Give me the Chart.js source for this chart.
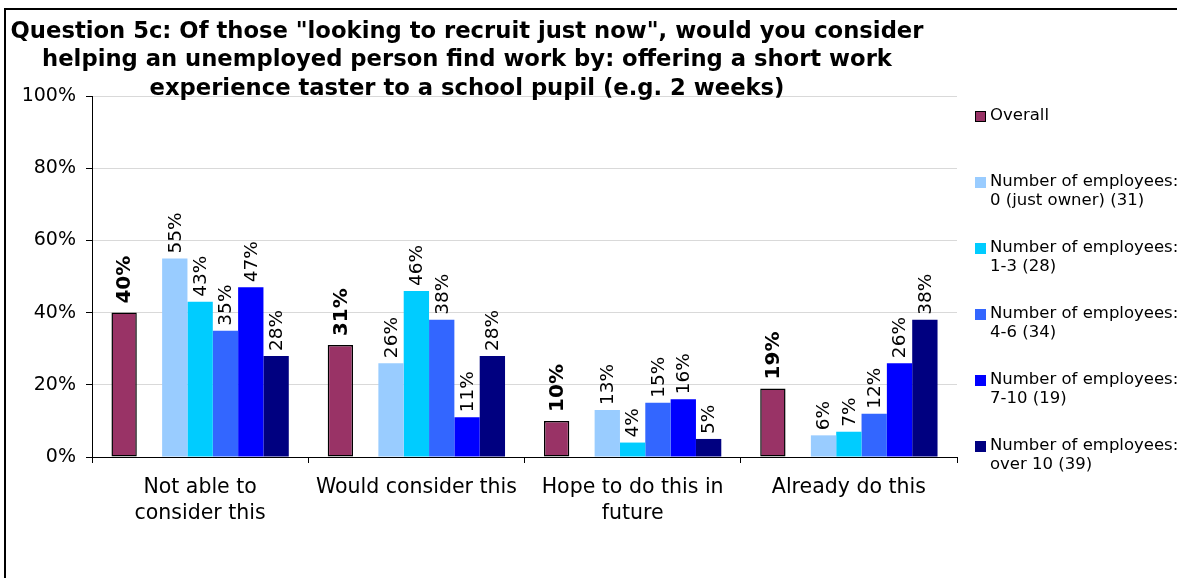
<!DOCTYPE html>
<html>
<head>
<meta charset="utf-8">
<script src="https://cdn.jsdelivr.net/npm/chart.js@4/dist/chart.umd.min.js"></script>
<style>
  html, body { margin: 0; padding: 0; background: #fff; }
  canvas { display: block; }
</style>
</head>
<body>
<canvas id="chart" width="1177" height="578"></canvas>
<script>
// data
const categories = [["Not able to", "consider this"], "Would consider this", ["Hope to do this in", "future"], "Already do this"];
const overall = [40, 31, 10, 19];
const emp0 = [55, 26, 13, 6];
const emp1to3 = [43, 46, 4, 7];
const emp4to6 = [35, 38, 15, 12];
const emp7to10 = [47, 11, 16, 26];
const empOver10 = [28, 28, 5, 38];
const seriesNames = [
  ["Overall"],
  ["Number of employees:", "0 (just owner) (31)"],
  ["Number of employees:", "1-3 (28)"],
  ["Number of employees:", "4-6 (34)"],
  ["Number of employees:", "7-10 (19)"],
  ["Number of employees:", "over 10 (39)"]
];
const titleLines = [
  'Question 5c: Of those "looking to recruit just now", would you consider',
  "helping an unemployed person find work by: offering a short work",
  "experience taster to a school pupil (e.g. 2 weeks)"
];

const FONT = "'DejaVu Sans', Verdana, sans-serif";
const colors = ["#993366", "#99CCFF", "#00CCFF", "#3366FF", "#0000FF", "#000080"];
const seriesData = [overall, emp0, emp1to3, emp4to6, emp7to10, empOver10];

const datasets = [];
seriesData.forEach(function (d, i) {
  datasets.push({
    label: seriesNames[i].join(" "),
    data: d,
    backgroundColor: colors[i],
    borderColor: i === 0 ? "#000" : colors[i],
    borderWidth: i === 0 ? 1.5 : 0,
    borderSkipped: false
  });
  if (i === 0) {
    // empty slot between Overall and the size bands
    datasets.push({ label: "", data: [null, null, null, null], spacer: true });
  }
});

const extras = {
  id: "extras",
  beforeDraw(chart) {
    const ctx = chart.ctx;
    ctx.save();
    ctx.strokeStyle = "#000";
    ctx.lineWidth = 2;
    ctx.beginPath();
    ctx.moveTo(5, 600);
    ctx.lineTo(5, 9);
    ctx.lineTo(1200, 9);
    ctx.stroke();
    ctx.restore();
  },
  afterDatasetsDraw(chart) {
    const ctx = chart.ctx;
    ctx.save();
    chart.data.datasets.forEach(function (ds, di) {
      if (ds.spacer) return;
      const meta = chart.getDatasetMeta(di);
      const bold = di === 0;
      meta.data.forEach(function (bar, j) {
        ctx.save();
        ctx.translate(bar.x, bar.y - (bold ? 9 : 5));
        ctx.rotate(-Math.PI / 2);
        ctx.font = (bold ? "bold 20px " : "18.5px ") + FONT;
        ctx.fillStyle = "#000";
        ctx.textAlign = "left";
        ctx.textBaseline = "middle";
        ctx.fillText(ds.data[j] + "%", 0, 1);
        ctx.restore();
      });
    });
    ctx.restore();
  },
  afterDraw(chart) {
    const ctx = chart.ctx;
    ctx.save();
    // title
    ctx.font = "bold 22.7px " + FONT;
    ctx.fillStyle = "#000";
    ctx.textAlign = "center";
    ctx.textBaseline = "middle";
    titleLines.forEach(function (t, i) {
      ctx.fillText(t, 467, 32 + i * 28.5);
    });
    // legend
    ctx.font = "16.5px " + FONT;
    ctx.textAlign = "left";
    let k = 0;
    chart.data.datasets.forEach(function (ds) {
      if (ds.spacer) return;
      const y = 116 + k * 66;
      ctx.fillStyle = ds.backgroundColor;
      ctx.fillRect(975, y - 5, 11, 11);
      if (k === 0) {
        ctx.strokeStyle = "#000";
        ctx.lineWidth = 1;
        ctx.strokeRect(975.5, y - 4.5, 10, 10);
      }
      ctx.fillStyle = "#000";
      seriesNames[k].forEach(function (line, li) {
        ctx.fillText(line, 990, y + li * 19);
      });
      k++;
    });
    ctx.restore();
  }
};

new Chart(document.getElementById("chart"), {
  type: "bar",
  data: { labels: categories, datasets: datasets },
  options: {
    responsive: false,
    animation: false,
    devicePixelRatio: 1,
    layout: { padding: { left: 0, top: 96, right: 220, bottom: 0 } },
    datasets: { bar: { categoryPercentage: 0.82, barPercentage: 1.0 } },
    plugins: { legend: { display: false }, title: { display: false }, tooltip: { enabled: false } },
    scales: {
      x: {
        offset: true,
        grid: { display: true, drawOnChartArea: false, offset: true, tickColor: "#000", tickLength: 6 },
        border: { color: "#000", width: 1 },
        ticks: { color: "#000", font: { family: FONT, size: 20.5, lineHeight: 1.3 }, padding: 11, maxRotation: 0 },
        afterFit(scale) { scale.height = 121; }
      },
      y: {
        min: 0,
        max: 100,
        ticks: { stepSize: 20, color: "#000", font: { family: FONT, size: 19 }, padding: 10, callback: function (v) { return v + "%"; } },
        grid: { color: "#d9d9d9", tickColor: "#000", tickLength: 6 },
        border: { color: "#000", width: 1 },
        afterFit(scale) { scale.width = 92; }
      }
    }
  },
  plugins: [extras]
});
</script>
</body>
</html>
